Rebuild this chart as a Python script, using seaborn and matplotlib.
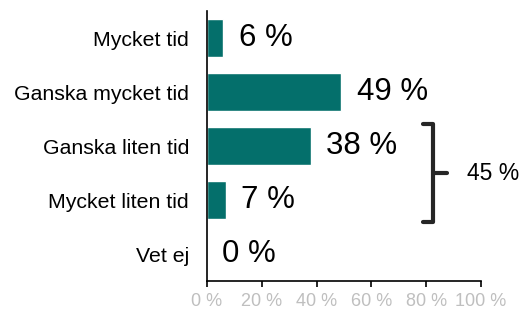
import matplotlib
matplotlib.use("Agg")
import matplotlib.pyplot as plt
import seaborn as sns
import pandas as pd

categories = ["Mycket tid", "Ganska mycket tid", "Ganska liten tid", "Mycket liten tid", "Vet ej"]
values = [6, 49, 38, 7, 0]
x_ticks = [0, 20, 40, 60, 80, 100]
x_tick_labels = ["0 %", "20 %", "40 %", "60 %", "80 %", "100 %"]
bracket_group = ["Ganska liten tid", "Mycket liten tid"]
bracket_label = "45 %"

sns.set_theme(style="white")
plt.rcParams["font.family"] = ["Liberation Sans", "DejaVu Sans"]

df = pd.DataFrame({"cat": categories, "val": values})

fig = plt.figure(figsize=(5.29, 3.11), dpi=100)
ax = fig.add_axes([207 / 529, 30 / 311, 274 / 529, 270 / 311])

sns.barplot(data=df, x="val", y="cat", orient="h", color="#046F6B",
            saturation=1, width=0.7, ax=ax, order=categories)

ax.set_xlim(0, 100)
ax.set_ylim(4.5, -0.5)
ax.set_xticks(x_ticks)
ax.set_xticklabels(x_tick_labels, color="#BFBFBF", fontsize=13)
ax.tick_params(axis="x", bottom=True, length=4, width=1.2, color="black", pad=5)
ax.tick_params(axis="y", left=False, length=0, pad=13, labelsize=15.3, labelcolor="black")
ax.set_xlabel("")
ax.set_ylabel("")
for s in ["top", "right"]:
    ax.spines[s].set_visible(False)
for s in ["left", "bottom"]:
    ax.spines[s].set_color("black")
    ax.spines[s].set_linewidth(1.2)

for i, v in enumerate(values):
    ax.annotate(f"{v} %", xy=(v, i), xytext=(11, 0), textcoords="offset points",
                ha="left", va="center", fontsize=22.5, color="black")

# bracket
idx = [categories.index(c) for c in bracket_group]
y0 = min(idx) - 0.41
y1 = max(idx) + 0.41
ym = (y0 + y1) / 2
xb = 82.5
ax.plot([xb - 3.6, xb, xb, xb - 3.6], [y0, y0, y1, y1], color="#262626", lw=3,
        clip_on=False, solid_capstyle="round", solid_joinstyle="round")
ax.plot([xb, xb + 5], [ym, ym], color="#262626", lw=3, clip_on=False,
        solid_capstyle="round")
ax.text(xb + 12.3, ym, bracket_label, ha="left", va="center", fontsize=16.5, color="black")

fig.savefig("out.png", dpi=100)
